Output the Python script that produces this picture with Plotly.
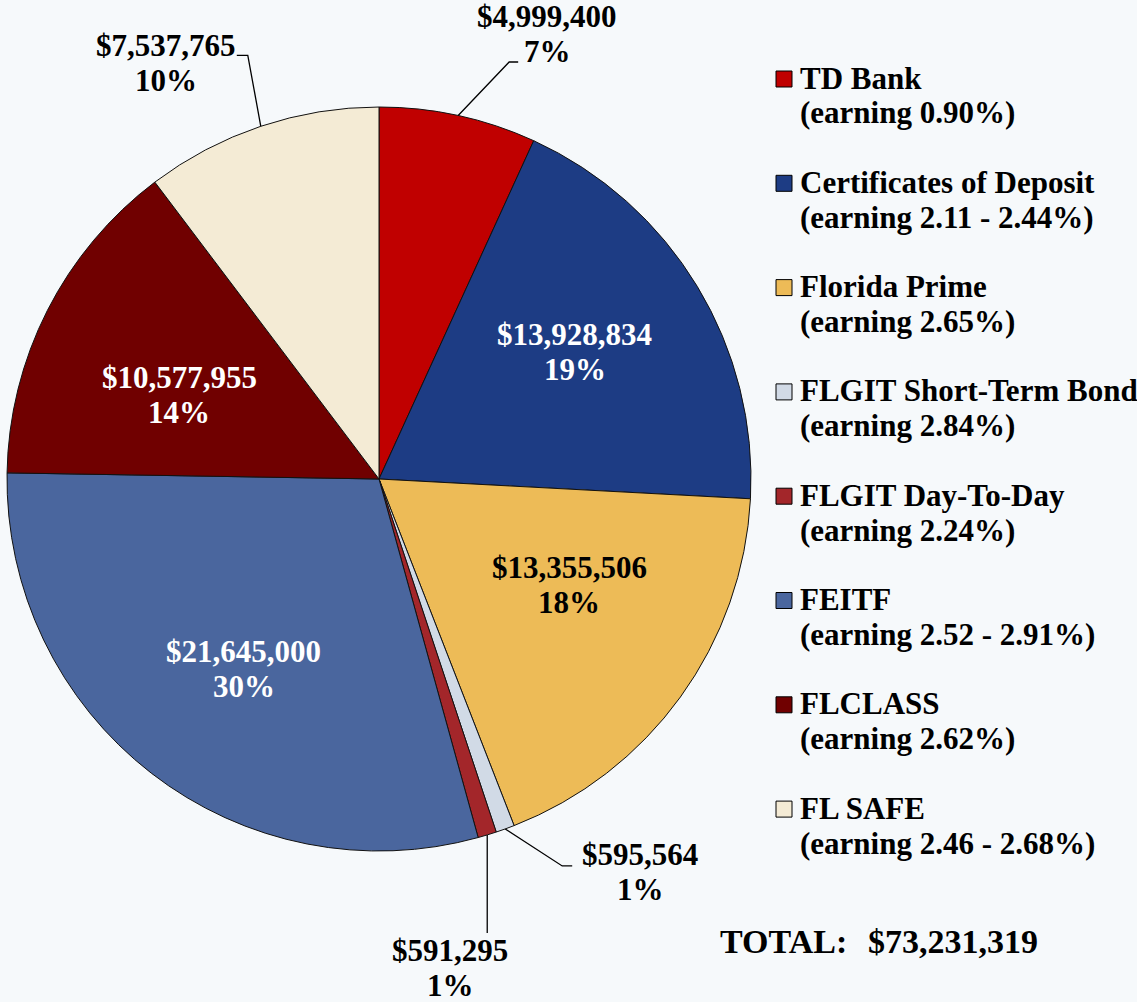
import math
import plotly.graph_objects as go

# ---------------- data ----------------
categories = ["TD Bank", "Certificates of Deposit", "Florida Prime",
              "FLGIT Short-Term Bond", "FLGIT Day-To-Day", "FEITF",
              "FLCLASS", "FL SAFE"]
earnings = ["(earning 0.90%)", "(earning 2.11 - 2.44%)", "(earning 2.65%)",
            "(earning 2.84%)", "(earning 2.24%)", "(earning 2.52 - 2.91%)",
            "(earning 2.62%)", "(earning 2.46 - 2.68%)"]
values = [4999400, 13928834, 13355506, 595564, 591295, 21645000, 10577955, 7537765]
total_label = "TOTAL:"

# ---------------- style ----------------
colors = ["#C00000", "#1D3C84", "#EDBB57", "#D1DAE6", "#A3262A",
          "#4A669E", "#700000", "#F4EBD5"]
BG = "#F6F9FB"
FONT = "Times New Roman, Liberation Serif, serif"
FS = 31
W, H = 1137, 1002
CX, CY, R = 379, 479, 372
LINE_GAP = 35

def px(x):
    return x / W

def py(y):
    return 1 - y / H

total = sum(values)
fracs = [v / total for v in values]
starts = []
acc = 0.0
for f in fracs:
    starts.append(acc)
    acc += f * 360
mids = [s + f * 180 for s, f in zip(starts, fracs)]

def polar(angle_deg, r):
    a = math.radians(angle_deg)
    return CX + r * math.sin(a), CY - r * math.cos(a)

fig = go.Figure(go.Pie(
    labels=categories, values=values, sort=False, direction="clockwise",
    rotation=0, textinfo="none", hoverinfo="label+value+percent",
    marker=dict(colors=colors, line=dict(color="#111111", width=1)),
    domain=dict(x=[px(CX - R), px(CX + R)], y=[py(CY + R), py(CY - R)]),
    showlegend=False,
))

annotations = []
shapes = []

def add_text(x, y, text, color="black", anchor="center", size=FS):
    annotations.append(dict(
        x=px(x), y=py(y), xref="paper", yref="paper", text="<b>" + text + "</b>",
        showarrow=False, xanchor=anchor, yanchor="middle",
        font=dict(family=FONT, size=size, color=color)))

def two_line(cx, cy, l1, l2, color="black"):
    add_text(cx, cy - LINE_GAP / 2, l1, color)
    add_text(cx, cy + LINE_GAP / 2, l2, color)

def label_lines(i):
    return "${:,}".format(values[i]), "{}%".format(round(fracs[i] * 100))

# inside labels: (radius fraction, angle nudge, color)
inside = {1: (0.628, -1.8, "white"), 2: (0.585, -6.7, "black"),
          5: (0.627, -2.25, "white"), 6: (0.583, -4.15, "white")}
for i, (rf, da, col) in inside.items():
    x, y = polar(mids[i] + da, rf * R)
    l1, l2 = label_lines(i)
    two_line(x, y, l1, l2, col)

# outside labels: elbow offset, end offset, text-centre offset (from slice edge)
outside = {0: ((51, -53.5), (60, -53.5), (89, -81.5)),
           7: ((-13, -71), (-24, -71), (-95, -63.5)),
           3: ((57, 37), (67, 37), (135, 43)),
           4: ((0, 98), (0, 98), (-37, 133))}
for i, (el, en, tc) in outside.items():
    ex, ey = polar(mids[i], R)
    path = "M {} {} L {} {} L {} {}".format(
        px(ex), py(ey), px(ex + el[0]), py(ey + el[1]), px(ex + en[0]), py(ey + en[1]))
    shapes.append(dict(type="path", path=path, xref="paper", yref="paper",
                       line=dict(color="black", width=1.3)))
    l1, l2 = label_lines(i)
    two_line(ex + tc[0], ey + tc[1], l1, l2)

# legend (drawn manually to match layout)
LEG_X, LEG_Y0, LEG_STEP, SYM = 776, 79, 104.3, 16
for i, (name, earn) in enumerate(zip(categories, earnings)):
    yc = LEG_Y0 + i * LEG_STEP
    shapes.append(dict(type="rect", xref="paper", yref="paper",
                       x0=px(LEG_X), x1=px(LEG_X + SYM),
                       y0=py(yc - SYM / 2), y1=py(yc + SYM / 2),
                       fillcolor=colors[i], line=dict(color="black", width=1)))
    add_text(LEG_X + 22, yc - 1, name, anchor="left")
    add_text(LEG_X + 22, yc + LINE_GAP - 1, earn, anchor="left")

add_text(718, 941, total_label, anchor="left", size=34)
add_text(866, 941, "${:,}".format(total), anchor="left", size=34)

fig.update_layout(
    width=W, height=H, margin=dict(l=0, r=0, t=0, b=0),
    paper_bgcolor=BG, plot_bgcolor=BG,
    annotations=annotations, shapes=shapes,
)
fig.write_html("out.html", config={"displayModeBar": False},
               post_script="document.body.style.margin='0';document.body.style.background='" + BG + "';")
